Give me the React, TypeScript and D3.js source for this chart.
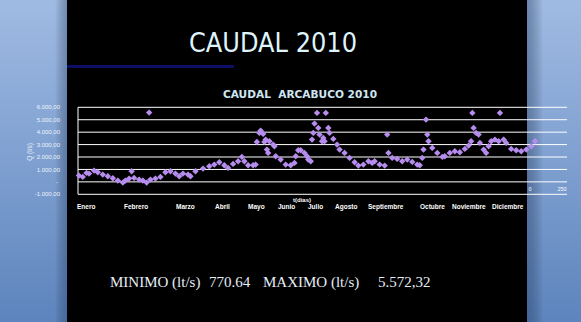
import React from "react";
import * as d3 from "d3";

const days: number[] = [1,4,7,9,13,16,20,24,28,32,36,38,41,43,45,49,52,55,57,58,62,66,70,74,78,81,84,88,90,94,100,105,109,113,117,120,124,128,131,133,136,140,142,143,145,146,148,149,150,151,152,153,156,157,158,162,166,170,173,174,176,178,181,183,184,186,187,188,189,191,192,193,195,196,197,198,200,201,204,207,209,213,217,221,224,228,232,235,237,241,245,247,248,251,255,259,263,267,271,273,275,276,278,279,280,283,287,291,293,297,301,305,309,312,314,315,316,318,320,321,324,326,328,330,333,336,337,340,342,346,350,354,358,362,365];
const caudal: number[] = [506,399,721,667,908,774,587,452,292,104,-60,104,265,855,318,184,104,-60,5572,184,265,399,774,855,667,452,667,587,452,855,1069,1257,1391,1579,1338,1123,1445,1659,2008,1659,1338,1338,1391,3215,3939,4127,3858,3215,3403,2598,2330,3268,3000,2866,2062,1793,1391,1338,1525,2062,2544,2544,2330,2062,1793,1659,3403,3939,4690,5548,4341,3805,3268,3537,3268,5548,4341,3939,3456,3000,2598,2330,1928,1579,1311,1391,1659,1525,1659,1391,1311,3805,2330,1928,1847,1659,1793,1605,1391,1338,1928,2598,5012,3805,3268,2732,2330,2008,2062,2330,2464,2383,2652,2920,3268,5548,4341,3939,3805,3134,2598,2330,2866,3268,3403,3268,5548,3403,3134,2652,2544,2464,2598,2866,3268];

const yTicks: number[] = [6000, 5000, 4000, 3000, 2000, 1000, 0, -1000];
const yTickLabels: string[] = ["6.000,00", "5.000,00", "4.000,00", "3.000,00", "2.000,00", "1.000,00", "-", "-1.000,00"];
const months: string[] = ["Enero","Febrero","Marzo","Abril","Mayo","Junio","Julio","Agosto","Septiembre","Octubre","Noviembre","Diciembre"];
const monthLabelX: number[] = [77,124,176,215,248,278,308,335,368,420,452,492];

const W = 581, H = 322;

export default function App() {
  const x = d3.scaleLinear().domain([1, 365]).range([79, 535]);
  const y = d3.scaleLinear().domain([-1000, 6000]).range([194.3, 107.3]);
  const sym = d3.symbol().type(d3.symbolDiamond2).size(26)();
  const pts = days.map((d, i) => ({ d, v: caudal[i] }));
  return (
    <svg width={W} height={H} style={{ position: "absolute", left: 0, top: 0 }}>
      <defs>
        <linearGradient id="bg" x1="0" y1="0" x2="0" y2="1">
          <stop offset="0" stopColor="#a0bbe3" />
          <stop offset="1" stopColor="#5d84bd" />
        </linearGradient>
        <linearGradient id="shL" x1="0" y1="0" x2="1" y2="0">
          <stop offset="0" stopColor="#000" stopOpacity="0" />
          <stop offset="1" stopColor="#1a3560" stopOpacity="0.35" />
        </linearGradient>
        <linearGradient id="shR" x1="0" y1="0" x2="1" y2="0">
          <stop offset="0" stopColor="#1a3560" stopOpacity="0.4" />
          <stop offset="1" stopColor="#000" stopOpacity="0" />
        </linearGradient>
      </defs>
      <rect x={0} y={0} width={W} height={H} fill="url(#bg)" />
      <rect x={55} y={0} width={12} height={H} fill="url(#shL)" />
      <rect x={527} y={0} width={16} height={H} fill="url(#shR)" />
      <rect x={67} y={0} width={460} height={H} fill="#000" />

      <text x={273} y={52} textAnchor="middle" fontFamily="DejaVu Sans" fontSize={26}
        fill="#dff4fb" textLength={168} lengthAdjust="spacingAndGlyphs">CAUDAL 2010</text>
      <rect x={67} y={65} width={167} height={3} fill="#0e0e66" />

      <text x={300} y={98} textAnchor="middle" fontFamily="DejaVu Sans" fontWeight="bold"
        fontSize={11} fill="#cfe6f2" textLength={154} lengthAdjust="spacingAndGlyphs"
        style={{ whiteSpace: "pre" }}>{"CAUDAL  ARCABUCO 2010"}</text>

      {yTicks.map((t) => (
        <line key={"g" + t} x1={78} x2={567} y1={y(t)} y2={y(t)} stroke="#ffffff" strokeWidth={1} />
      ))}
      <line x1={78} x2={78} y1={y(6000)} y2={y(-1000)} stroke="#ffffff" strokeWidth={1} />

      {yTicks.map((t, i) => (
        <text key={"l" + t} x={t === 0 ? 58 : 60} y={y(t)} dy="0.35em" textAnchor="end"
          fontFamily="Liberation Sans" fontSize={6} fill="#eef3fa">{yTickLabels[i]}</text>
      ))}
      <text transform={`translate(32,152) rotate(-90)`} textAnchor="middle"
        fontFamily="Liberation Sans" fontSize={6.5} fill="#eef3fa">Q (l/s)</text>

      {pts.map((p, i) => (
        <path key={i} d={sym as string} transform={`translate(${x(p.d)},${y(p.v)})`} fill="#b68def" />
      ))}

      <text x={302} y={202} textAnchor="middle" fontFamily="Liberation Sans" fontWeight="bold"
        fontSize={6} fill="#ffffff">t(dias)</text>
      <text x={530} y={191} textAnchor="middle" fontFamily="Liberation Sans" fontSize={5.5} fill="#ffffff">0</text>
      <text x={562} y={191} textAnchor="middle" fontFamily="Liberation Sans" fontSize={5.5} fill="#ffffff">250</text>

      {months.map((m, i) => (
        <text key={m} x={monthLabelX[i]} y={209} fontFamily="Liberation Sans" fontWeight="bold"
          fontSize={6.5} fill="#ffffff">{m}</text>
      ))}

      <g fontFamily="Liberation Serif" fontSize={15} fill="#e6eef7">
        <text x={110} y={287}>MINIMO (lt/s)</text>
        <text x={209} y={287}>770.64</text>
        <text x={263} y={287}>MAXIMO (lt/s)</text>
        <text x={378} y={287}>5.572,32</text>
      </g>
    </svg>
  );
}
